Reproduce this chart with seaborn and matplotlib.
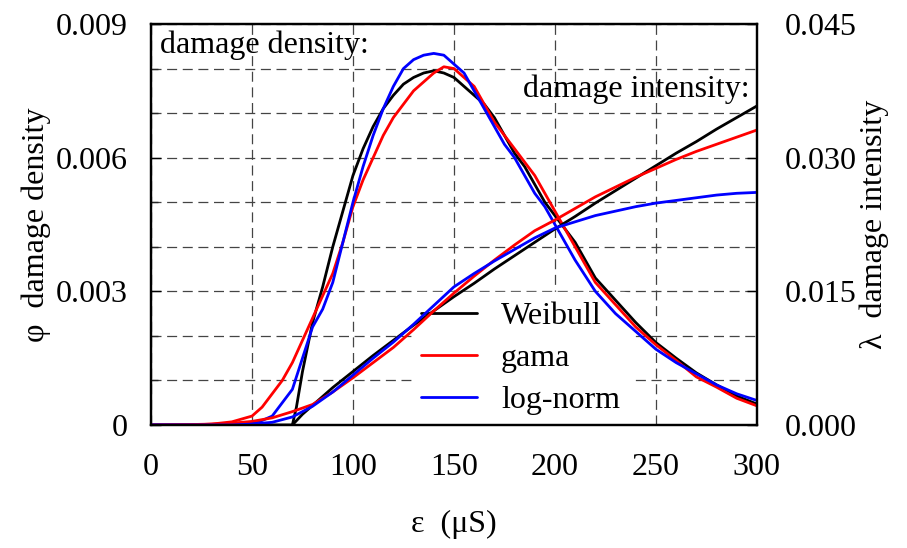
import numpy as np
import pandas as pd
import seaborn as sns
import matplotlib
matplotlib.use("Agg")
import matplotlib.pyplot as plt
from matplotlib.ticker import MultipleLocator, FixedLocator, FixedFormatter
from matplotlib.lines import Line2D

# damage density (left axis)
x_weib_pdf = [0, 70, 72, 75, 80, 85, 90, 95, 100, 105, 110, 115, 120, 125, 130, 135, 140,
              145, 150, 155, 160, 165, 170, 175, 180, 185, 190, 195, 200, 210, 220, 230,
              240, 250, 260, 270, 280, 290, 300]
weib_pdf = [0, 0, 0.0004, 0.0012, 0.0023, 0.0031, 0.0040, 0.0048, 0.0056, 0.0062, 0.0067,
            0.0071, 0.0074, 0.00765, 0.0078, 0.0079, 0.00795, 0.0079, 0.0078, 0.0076,
            0.0074, 0.0072, 0.0069, 0.0065, 0.0061, 0.0058, 0.0054, 0.0050, 0.0047, 0.0041,
            0.0033, 0.0028, 0.0023, 0.00185, 0.0015, 0.00117, 0.0009, 0.00065, 0.00047]

x_gama_pdf = [0, 20, 30, 40, 50, 55, 60, 65, 70, 75, 80, 85, 90, 95, 100, 105, 110, 115,
              120, 125, 130, 135, 140, 145, 150, 155, 160, 165, 170, 175, 180, 185, 190,
              195, 200, 210, 220, 230, 240, 250, 260, 270, 280, 290, 300]
gama_pdf = [0, 0, 0.00002, 0.00007, 0.0002, 0.0004, 0.0007, 0.0010, 0.0014, 0.0019, 0.0024,
            0.0029, 0.0034, 0.0041, 0.0049, 0.0055, 0.0060, 0.0065, 0.0069, 0.0072, 0.0075,
            0.0077, 0.0079, 0.00804, 0.0080, 0.0078, 0.0076, 0.0072, 0.0068, 0.0065, 0.0062,
            0.0059, 0.0056, 0.0052, 0.0048, 0.0040, 0.0032, 0.0027, 0.0022, 0.0018, 0.00145,
            0.00108, 0.00085, 0.0006, 0.00043]

x_logn_pdf = [0, 30, 40, 50, 55, 60, 65, 70, 75, 80, 85, 90, 95, 100, 105, 110, 115, 120,
              125, 130, 135, 140, 145, 150, 155, 160, 165, 170, 175, 180, 185, 190, 195,
              200, 205, 210, 220, 230, 240, 250, 260, 270, 280, 290, 300]
logn_pdf = [0, 0, 0.00002, 0.00005, 0.0001, 0.0002, 0.0005, 0.0008, 0.0015, 0.0022, 0.0026,
            0.0032, 0.0041, 0.0050, 0.0058, 0.0065, 0.0071, 0.0076, 0.0080, 0.0082, 0.0083,
            0.00834, 0.0083, 0.0081, 0.0079, 0.0075, 0.0071, 0.0067, 0.0063, 0.0060, 0.0056,
            0.0052, 0.0049, 0.0045, 0.0041, 0.0037, 0.0030, 0.0025, 0.0021, 0.0017, 0.0014,
            0.00115, 0.0009, 0.0007, 0.00055]

# damage intensity (right axis)
x_weib_haz = [70, 75, 80, 90, 100, 110, 120, 130, 140, 150, 160, 170, 180, 190, 200, 210,
              220, 230, 240, 250, 260, 270, 280, 290, 300]
weib_haz = [0, 0.0012, 0.0022, 0.0042, 0.0060, 0.0078, 0.0095, 0.0112, 0.0128, 0.0144,
            0.0159, 0.0175, 0.0190, 0.0205, 0.0220, 0.0234, 0.0249, 0.0263, 0.0277, 0.0291,
            0.0305, 0.0318, 0.0332, 0.0345, 0.0358]

x_gama_haz = [0, 20, 30, 40, 50, 60, 70, 80, 90, 100, 110, 120, 130, 140, 150, 160, 170,
              180, 190, 200, 210, 220, 230, 240, 250, 260, 270, 280, 290, 300]
gama_haz = [0, 0.00005, 0.0001, 0.0002, 0.0004, 0.0008, 0.0015, 0.0023, 0.0037, 0.0053,
            0.0070, 0.0087, 0.0107, 0.0128, 0.0148, 0.0167, 0.0185, 0.0202, 0.0218, 0.0230,
            0.0243, 0.0256, 0.0267, 0.0278, 0.0288, 0.0298, 0.0307, 0.0315, 0.0323, 0.0331]

x_logn_haz = [0, 40, 50, 60, 65, 70, 80, 90, 100, 110, 120, 130, 140, 150, 160, 170, 180,
              190, 200, 210, 220, 230, 240, 250, 260, 270, 280, 290, 300]
logn_haz = [0, 0, 0.0001, 0.0003, 0.0006, 0.0009, 0.0021, 0.0037, 0.0056, 0.0075, 0.0093,
            0.0113, 0.0134, 0.0155, 0.0170, 0.0184, 0.0197, 0.0210, 0.0221, 0.0228, 0.0235,
            0.0240, 0.0245, 0.0249, 0.0252, 0.0255, 0.0258, 0.0260, 0.0261]

models = ["Weibull", "gama", "log-norm"]
colors = {"Weibull": "black", "gama": "red", "log-norm": "blue"}

left_ticks = [0, 0.003, 0.006, 0.009]
left_labels = ["0", "0.003", "0.006", "0.009"]
right_ticks = [0, 0.015, 0.030, 0.045]
right_labels = ["0.000", "0.015", "0.030", "0.045"]


def long_frame(parts):
    frames = []
    for name, xs, ys in parts:
        frames.append(pd.DataFrame({"eps": xs, "val": ys, "model": name}))
    return pd.concat(frames, ignore_index=True)


dens = long_frame([("Weibull", x_weib_pdf, weib_pdf),
                   ("gama", x_gama_pdf, gama_pdf),
                   ("log-norm", x_logn_pdf, logn_pdf)])
haz = long_frame([("Weibull", x_weib_haz, weib_haz),
                  ("gama", x_gama_haz, gama_haz),
                  ("log-norm", x_logn_haz, logn_haz)])

sns.set_theme(style="white")
plt.rcParams["font.family"] = ["Liberation Serif", "DejaVu Serif"]
plt.rcParams["text.color"] = "black"
plt.rcParams["axes.labelcolor"] = "black"
FS = 23
LW = 2.0

fig = plt.figure(figsize=(9.07, 5.48), dpi=100)
ax = fig.add_axes([0.1665, 0.2245, 0.668, 0.7317])
ax2 = ax.twinx()

sns.lineplot(data=dens, x="eps", y="val", hue="model", hue_order=models, palette=colors,
             estimator=None, sort=False, legend=False, linewidth=LW, ax=ax)
sns.lineplot(data=haz, x="eps", y="val", hue="model", hue_order=models, palette=colors,
             estimator=None, sort=False, legend=False, linewidth=LW, ax=ax2)

ax.set_xlim(0, 300)
ax.set_ylim(0, 0.009)
ax2.set_ylim(0, 0.045)

ax.xaxis.set_major_locator(MultipleLocator(50))
ax.yaxis.set_major_locator(FixedLocator(left_ticks))
ax.yaxis.set_major_formatter(FixedFormatter(left_labels))
ax.yaxis.set_minor_locator(MultipleLocator(0.001))
ax2.yaxis.set_major_locator(FixedLocator(right_ticks))
ax2.yaxis.set_major_formatter(FixedFormatter(right_labels))

grid_kw = dict(color="#444444", linewidth=0.9, linestyle=(0, (8, 4.5)))
ax.set_axisbelow(True)
ax.grid(True, which="both", axis="y", **grid_kw)
ax.grid(True, which="major", axis="x", **grid_kw)
ax2.grid(False)

ax.tick_params(axis="x", direction="in", length=6, width=1, pad=20, labelsize=FS, colors="black")
ax.tick_params(axis="y", which="major", direction="in", length=7, width=1, pad=17,
               labelsize=FS, colors="black")
ax.tick_params(axis="y", which="minor", direction="in", length=5, width=1, left=True)
ax2.tick_params(axis="y", direction="in", length=7, width=1, pad=20, labelsize=FS, colors="black")

for a in (ax, ax2):
    for sp in a.spines.values():
        sp.set_color("black")
        sp.set_linewidth(1.6)

ax.set_xlabel("ε  (μS)", fontsize=FS, labelpad=20)
ax.set_ylabel("φ  damage density", fontsize=FS, labelpad=3)
ax2.set_ylabel("λ  damage intensity", fontsize=FS, labelpad=2)

ax.text(0.015, 0.985, "damage density:", transform=ax.transAxes, fontsize=FS,
        ha="left", va="top")
ax.text(0.988, 0.875, "damage intensity:", transform=ax.transAxes, fontsize=FS,
        ha="right", va="top")

handles = [Line2D([], [], color=colors[m], linewidth=LW) for m in models]
leg = ax.legend(handles, models, loc="lower left", bbox_to_anchor=(0.43, 0.0),
                borderaxespad=0, frameon=True, fontsize=FS, handlelength=1.75,
                handletextpad=0.75, labelspacing=0.4, borderpad=0.3, framealpha=1.0)
leg.get_frame().set_facecolor("white")
leg.get_frame().set_edgecolor("white")
leg.set_zorder(1)

fig.savefig("out.png", dpi=100)
